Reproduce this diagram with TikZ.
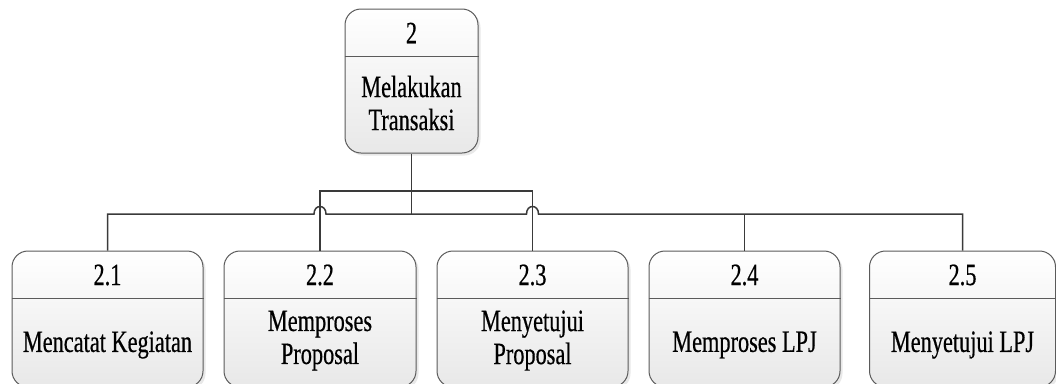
\documentclass[tikz,border=0pt]{standalone}
\usepackage{fontspec}
\setmainfont{Liberation Serif}[FakeStretch=0.72,RawFeature={embolden=0.5}]
\usetikzlibrary{calc,shadows}

\definecolor{boxline}{HTML}{5A5A5A}
\definecolor{linkcol}{HTML}{3A3A3A}

\tikzset{
  procbox/.style={draw=boxline, line width=1pt, rounded corners=16pt,
    top color=white, bottom color=black!9, inner sep=0pt,
    drop shadow={shadow xshift=2.5pt, shadow yshift=-2.5pt, opacity=0.18}},
  divider/.style={draw=boxline, line width=1pt},
  boxtext/.style={font=\fontsize{31}{33}\selectfont, inner sep=0pt, align=center},
  link/.style={draw=linkcol, line width=1.5pt},
}

% process box: name, centre x, top y, width, height, header height,
%              number, body text y, body text
\newcommand\procbox[9]{%
  \node[procbox, minimum width=#4, minimum height=#5] (#1) at (#2,{#3+#5/2}) {};
  \draw[divider] ($(#1.north west)+(0,#6)$) -- ($(#1.north east)+(0,#6)$);
  \node[boxtext] (#1-num) at (#2,{#3+#6/2}) {#7};
  \node[boxtext] (#1-txt) at (#2,#8) {#9};
}

\begin{document}
\begin{tikzpicture}[x=1pt,y=-1pt]
  \useasboundingbox (0,0) rectangle (1056,383);

  % parent process
  \procbox{p2}{411.5}{9}{133}{144}{48}{2}{103}{Melakukan\\Transaksi}

  % sub-processes
  \procbox{p21}{107.5}{251}{191}{136}{48}{2.1}{345}{Mencatat Kegiatan}
  \procbox{p22}{320}{251}{192}{136}{48}{2.2}{340.6}{Memproses\\Proposal}
  \procbox{p23}{532.5}{251}{191}{136}{48}{2.3}{340.6}{Menyetujui\\Proposal}
  \procbox{p24}{744.5}{251}{191}{136}{48}{2.4}{345}{Memproses LPJ}
  \procbox{p25}{962.5}{251}{186}{136}{48}{2.5}{345}{Menyetujui LPJ}

  % connector levels
  \coordinate (bus) at (412,214);
  \coordinate (brk) at (412,191);

  % trunk from the parent down to the bus
  \draw[link] (p2.south) -- (p2.south |- bus);

  % upper bracket serving 2.2 and 2.3
  \draw[link] (p22.north) -- (p22.north |- brk) -- (p23.north |- brk) -- (p23.north);

  % main bus with line hops over the bracket legs
  \draw[link] (p21.north) -- (p21.north |- bus)
    -- ($(p22.north |- bus)+(-6,0)$)
    .. controls +(0,-10) and +(0,-10) .. ($(p22.north |- bus)+(6,0)$)
    -- ($(p23.north |- bus)+(-6,0)$)
    .. controls +(0,-10) and +(0,-10) .. ($(p23.north |- bus)+(6,0)$)
    -- (p25.north |- bus) -- (p25.north);
  \draw[link] (p24.north |- bus) -- (p24.north);
\end{tikzpicture}
\end{document}
